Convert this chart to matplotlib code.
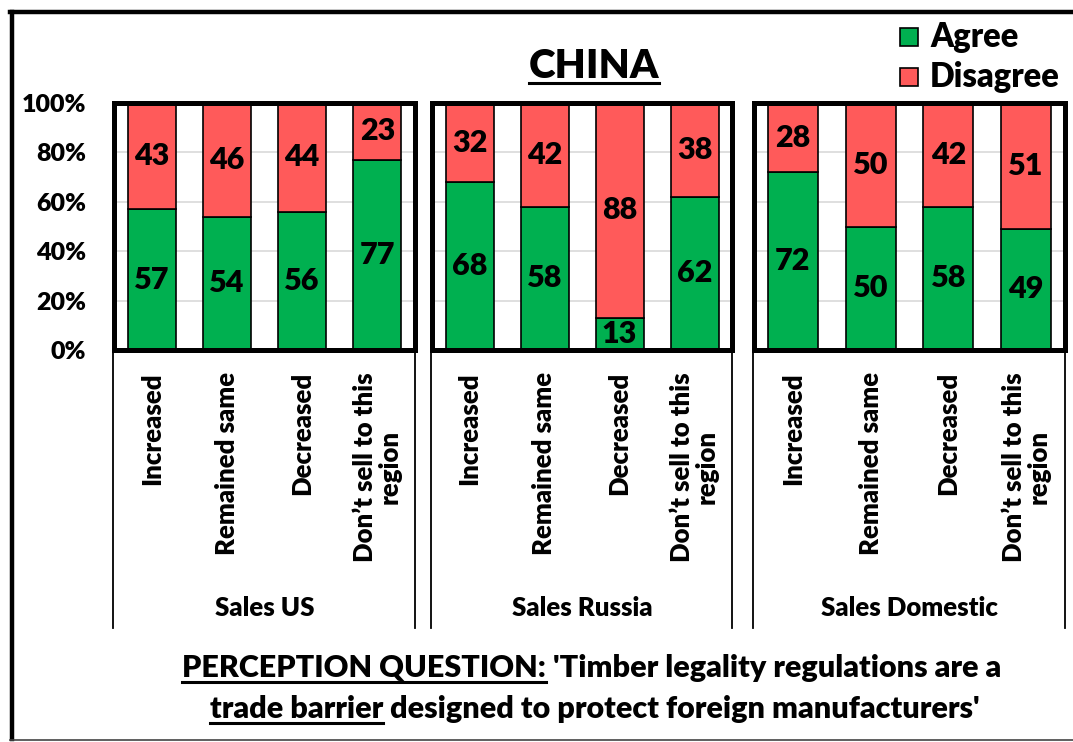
import matplotlib
matplotlib.use("Agg")
import matplotlib.pyplot as plt
from matplotlib.lines import Line2D
from matplotlib.patches import Rectangle
from matplotlib.transforms import blended_transform_factory

plt.rcParams["font.family"] = ["Lato", "DejaVu Sans"]
BOLD = "heavy"

# data
categories = ["Increased", "Remained same", "Decreased", "Don\u2019t sell to this\nregion"]
groups = ["Sales US", "Sales Russia", "Sales Domestic"]
agree = [
    [57, 54, 56, 77],
    [68, 58, 13, 62],
    [72, 50, 58, 49],
]
disagree = [
    [43, 46, 44, 23],
    [32, 42, 88, 38],
    [28, 50, 42, 51],
]
y_ticks = [0, 20, 40, 60, 80, 100]

GREEN = "#00B050"
RED = "#FF5A5A"

W, H = 1073, 742
fig = plt.figure(figsize=(W / 100, H / 100), dpi=100)


def fx(x):
    return x / W


def fy(y):
    return 1 - y / H


# pixel extents of the three panels (left, right)
panels = [(114, 415), (432, 732), (754, 1065)]
top, bottom = 103, 350

for g, (l, r) in enumerate(panels):
    ax = fig.add_axes([fx(l), fy(bottom), (r - l) / W, (bottom - top) / H])
    x = range(len(categories))
    ax.bar(x, agree[g], width=0.64, color=GREEN, edgecolor="black", linewidth=1.2, zorder=3)
    ax.bar(x, disagree[g], width=0.64, bottom=agree[g], color=RED, edgecolor="black",
           linewidth=1.2, zorder=3)
    for i in x:
        a, d = agree[g][i], disagree[g][i]
        ax.text(i, a / 2, str(a), ha="center", va="center", fontsize=22, fontweight=BOLD, zorder=4)
        ax.text(i, a + min(d, 100 - a) / 2, str(d), ha="center", va="center", fontsize=22,
                fontweight=BOLD, zorder=4)
    ax.set_xlim(-0.5, 3.5)
    ax.set_ylim(0, 100)
    ax.set_yticks(y_ticks)
    ax.yaxis.grid(True, color="#D9D9D9", linewidth=1.2, zorder=0)
    ax.set_xticks([])
    ax.tick_params(axis="y", length=0, pad=20)
    if g == 0:
        ax.set_yticklabels([f"{t}%" for t in y_ticks], fontsize=18, fontweight=BOLD)
    else:
        ax.set_yticklabels([])
    for s in ax.spines.values():
        s.set_linewidth(3.6)
        s.set_color("black")
        s.set_zorder(5)

    # category labels
    tr = blended_transform_factory(ax.transData, fig.transFigure)
    for i, c in enumerate(categories):
        ax.text(i, fy(372), c, rotation=90, ha="center", va="top", multialignment="center",
                fontsize=18.5, fontweight=BOLD, transform=tr, linespacing=1.0)

    # group label and separators
    fig.text(fx((l + r) / 2), fy(608), groups[g], ha="center", va="center",
             fontsize=18.5, fontweight=BOLD)
    for xe in (l - 1, r):
        fig.add_artist(Line2D([fx(xe), fx(xe)], [fy(353), fy(628)], color="black", linewidth=1.3))

# title
title = fig.text(fx(594), fy(78), "CHINA", ha="center", va="baseline", fontsize=29, fontweight=BOLD)

# legend
for k, (lab, col) in enumerate([("Agree", GREEN), ("Disagree", RED)]):
    yc = 37 + 40 * k
    fig.add_artist(Rectangle((fx(900), fy(yc + 9)), 18 / W, 18 / H, facecolor=col,
                             edgecolor="black", linewidth=1.2, transform=fig.transFigure))
    fig.text(fx(930), fy(yc), lab, ha="left", va="center", fontsize=23.5, fontweight=BOLD)

# bottom question text with underlined parts
line1 = [("PERCEPTION QUESTION:", True), (" 'Timber legality regulations are a", False)]
line2 = [("trade barrier", True), (" designed to protect foreign manufacturers'", False)]

fig.canvas.draw()
renderer = fig.canvas.get_renderer()


def underline(t):
    bb = t.get_window_extent(renderer)
    fig.add_artist(Line2D([bb.x0 / W, bb.x1 / W], [t.get_position()[1] - 5 / H] * 2,
                          color="black", linewidth=2.2))


underline(title)


def text_line(parts, cx, y, size):
    texts = [fig.text(0, fy(y), p, ha="left", va="baseline", fontsize=size, fontweight=BOLD)
             for p, _ in parts]
    widths = [t.get_window_extent(renderer).width for t in texts]
    x = cx - sum(widths) / 2
    for t, w in zip(texts, widths):
        t.set_x(x / W)
        x += w
    for t, (_, u) in zip(texts, parts):
        if u:
            underline(t)


text_line(line1, 592, 677, 22)
text_line(line2, 595, 718, 22)

# outer frame
fig.add_artist(Line2D([fx(12), fx(12)], [fy(12), fy(739)], color="black", linewidth=3.2))
fig.add_artist(Line2D([fx(10), fx(1073)], [fy(12), fy(12)], color="black", linewidth=3.2))
fig.add_artist(Line2D([fx(10), fx(1073)], [fy(740), fy(740)], color="#444444", linewidth=1.2))

fig.savefig("out.png", dpi=100)
